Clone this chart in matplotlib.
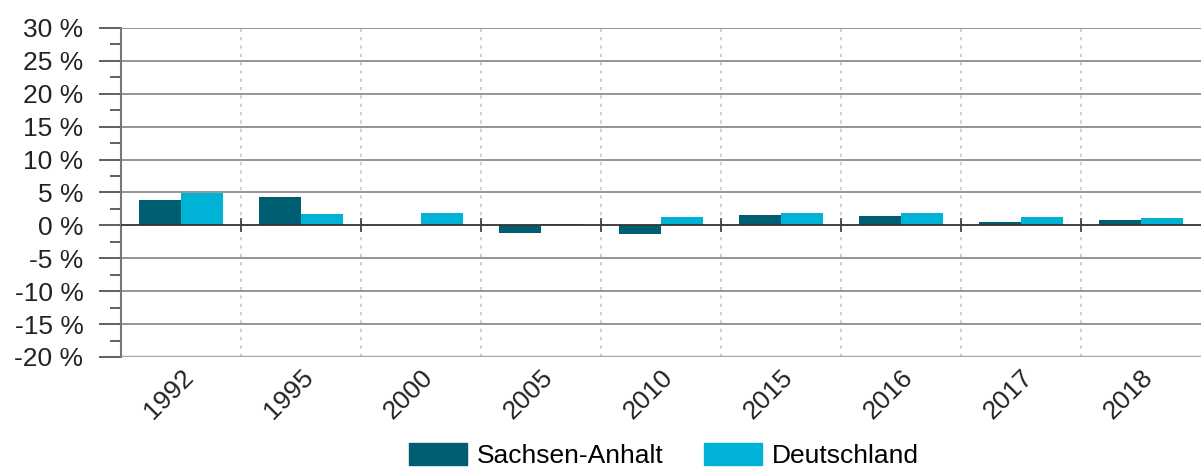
import matplotlib.pyplot as plt
import numpy as np
from matplotlib.patches import Patch
from matplotlib.transforms import ScaledTranslation

plt.rcParams['font.family'] = ['Liberation Sans', 'DejaVu Sans']

years = ["1992", "1995", "2000", "2005", "2010", "2015", "2016", "2017", "2018"]
sachsen_anhalt = [3.8, 4.3, 0.1, -1.2, -1.3, 1.6, 1.5, 0.5, 0.8]
deutschland = [4.9, 1.8, 1.9, 0.2, 1.3, 1.9, 1.9, 1.3, 1.1]

col_sa = "#005e72"
col_de = "#00b2d6"

fig = plt.figure(figsize=(12.01, 4.68), dpi=100)
ax = fig.add_axes([0.1007, 0.2372, 0.8993, 0.703])

x = np.arange(len(years))
w = 0.35
ax.bar(x - w / 2, sachsen_anhalt, w, color=col_sa, zorder=3)
ax.bar(x + w / 2, deutschland, w, color=col_de, zorder=3)

ax.set_xlim(-0.5, len(years) - 0.5)
ax.set_ylim(-20, 30)

# horizontal grid
for v in range(-15, 31, 5):
    if v == 0:
        continue
    ax.axhline(v, color="#8c8c8c", lw=1.3, zorder=1)
ax.axhline(-20, color="#a8a8a8", lw=2.5, zorder=1)
ax.axhline(0, color="#333333", lw=1.3, zorder=4)

# vertical dotted separators
for b in np.arange(0.5, len(years) - 0.5, 1):
    ax.axvline(b, color="#c8c8c8", lw=1.2, ls=(0, (2, 3)), zorder=0)
    ax.plot([b, b], [-0.9, 0.9], color="#444444", lw=1.3, zorder=4)

for s in ["top", "right", "bottom"]:
    ax.spines[s].set_visible(False)
ax.spines["left"].set_color("#777777")
ax.spines["left"].set_linewidth(1.5)

ax.set_yticks(range(-20, 31, 5))
ax.set_yticklabels([f"{v} %" for v in range(-20, 31, 5)], fontsize=19, color="#222222")
ax.set_yticks(np.arange(-17.5, 30, 5), minor=True)
ax.tick_params(axis="y", which="major", length=16, width=1.2, color="#444444", pad=11)
ax.tick_params(axis="y", which="minor", length=8, width=1.2, color="#444444")

ax.set_xticks(x)
ax.set_xticklabels(years, rotation=45, ha="right", rotation_mode="anchor", fontsize=19, color="#222222")
ax.tick_params(axis="x", length=0, pad=6)
offset = ScaledTranslation(0.0, 0, fig.dpi_scale_trans)
for lbl in ax.get_xticklabels():
    lbl.set_transform(lbl.get_transform() + offset)

handles = [Patch(color=col_sa, label="Sachsen-Anhalt"), Patch(color=col_de, label="Deutschland")]
fig.legend(handles=handles, loc="lower center", bbox_to_anchor=(0.553, -0.05), ncol=2, frameon=False,
           fontsize=19, handlelength=2.2, handleheight=0.91, columnspacing=1.52, handletextpad=0.38)

fig.savefig("out.png", dpi=100)
